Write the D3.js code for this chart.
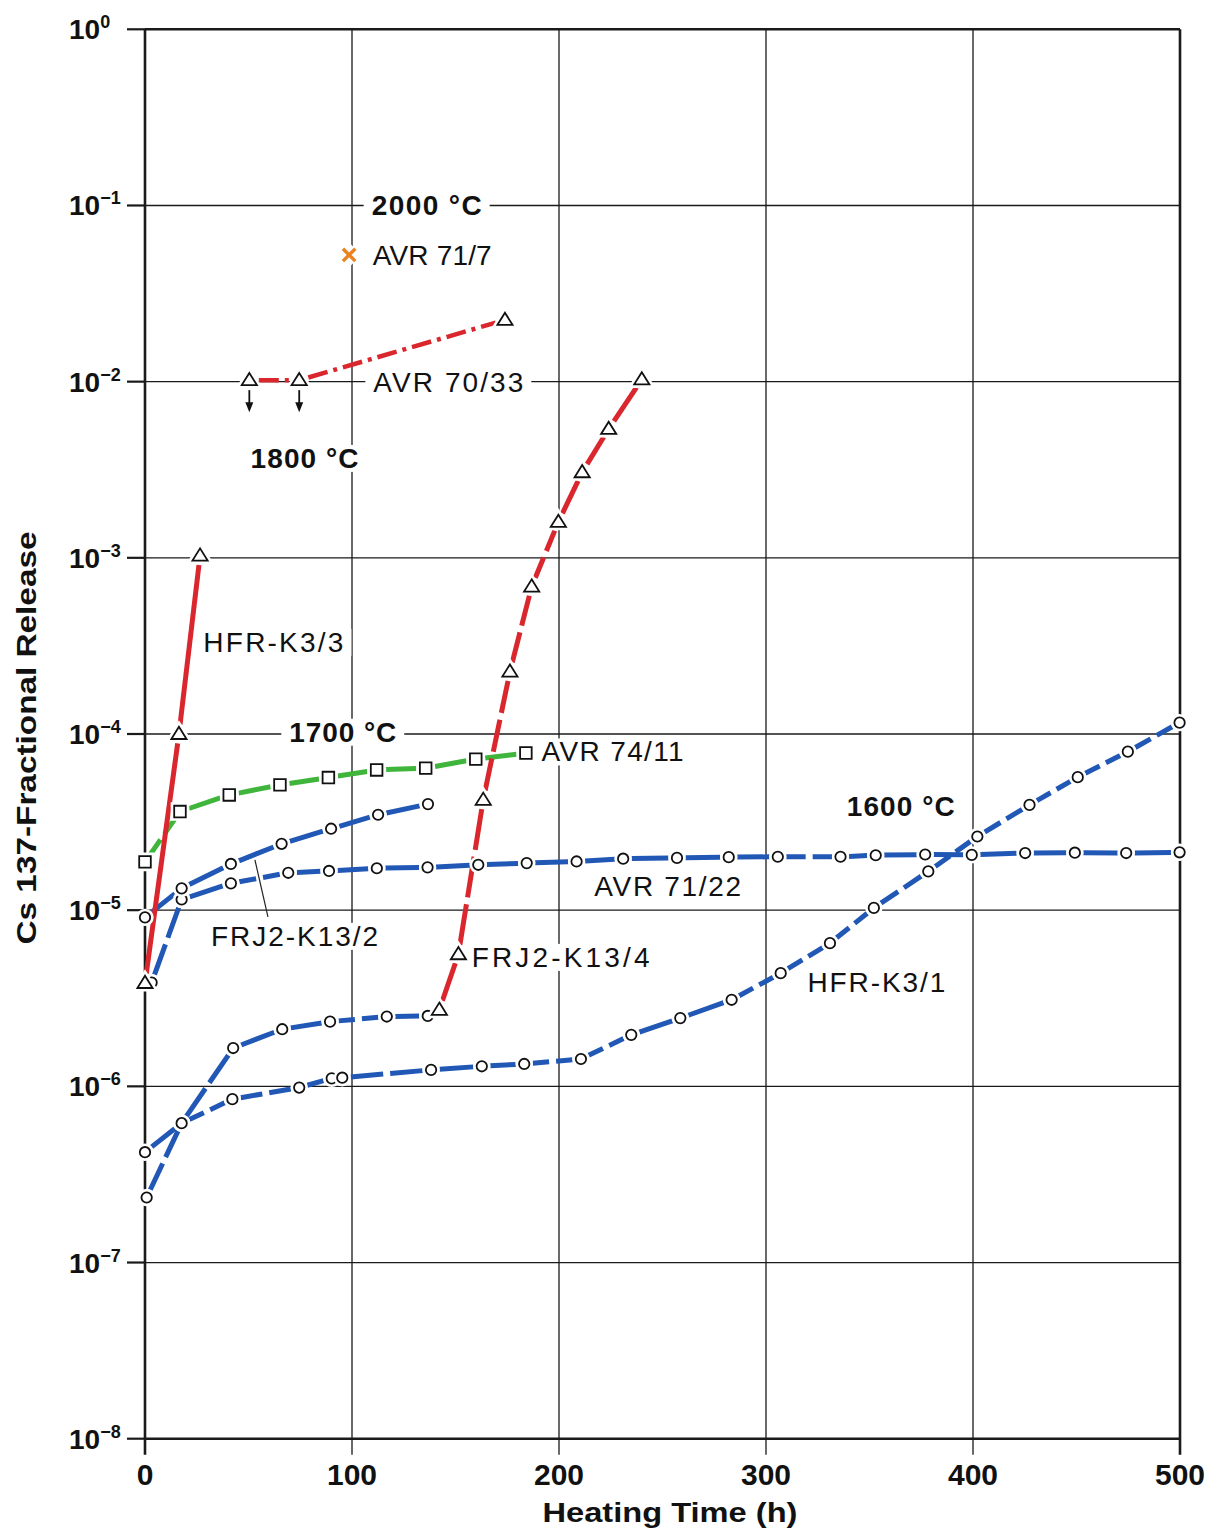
<!DOCTYPE html>
<html>
<head>
<meta charset="utf-8">
<script src="https://cdn.jsdelivr.net/npm/d3@7"></script>
<style>
  body { margin: 0; background: #fff; }
  text { font-family: "Liberation Sans", Arial, Helvetica, sans-serif; fill: #111; }
</style>
</head>
<body>
<svg id="chart" width="1224" height="1539"></svg>
<script>
// ---- Axis ticks ----
const timeTicks = [0, 100, 200, 300, 400, 500];
const decadeTicks = [1e0, 1e-1, 1e-2, 1e-3, 1e-4, 1e-5, 1e-6, 1e-7, 1e-8];
const decadeExponents = ["0", "\u22121", "\u22122", "\u22123", "\u22124", "\u22125", "\u22126", "\u22127", "\u22128"];

// ---- Release curves: [heating time (h), Cs-137 fractional release] ----
// 2000 °C
const avr717 = [[98.6, 5.24e-2]];
// 1800 °C (first two points are upper limits)
const avr7033 = [[50.4, 1.02e-2], [74.5, 1.02e-2], [173.9, 2.24e-2]];
const avr7033UpperLimitTimes = [50.4, 74.5];
const hfrK33 = [[0, 3.86e-6], [16.4, 1.0e-4], [26.6, 1.03e-3]];
const frj2K134Hot = [[142.2, 2.72e-6], [151.4, 5.62e-6], [163.4, 4.23e-5], [176.3, 2.26e-4],
  [186.8, 6.87e-4], [199.7, 1.6e-3], [211.2, 3.06e-3], [224.0, 5.39e-3], [240.0, 1.03e-2]];
// 1700 °C
const avr7411 = [[0, 1.88e-5], [16.9, 3.63e-5], [40.7, 4.51e-5], [65.2, 5.14e-5], [88.6, 5.66e-5],
  [111.9, 6.25e-5], [135.6, 6.4e-5], [159.8, 7.2e-5], [184.0, 7.8e-5]];
// 1600 °C
const frj2K132 = [[0, 9.1e-6], [17.7, 1.33e-5], [41.5, 1.83e-5], [66.0, 2.38e-5], [89.9, 2.9e-5],
  [112.6, 3.48e-5], [136.7, 4.0e-5]];
const avr7122 = [[3.2, 3.88e-6], [17.7, 1.15e-5], [41.5, 1.42e-5], [69.2, 1.63e-5], [88.9, 1.67e-5],
  [112.0, 1.73e-5], [136.5, 1.75e-5], [161.0, 1.81e-5], [184.4, 1.85e-5], [208.5, 1.89e-5],
  [231.0, 1.96e-5], [257.0, 1.98e-5], [282.0, 2.0e-5], [305.7, 2.01e-5], [336.0, 2.01e-5],
  [353.0, 2.05e-5], [376.9, 2.07e-5], [399.4, 2.06e-5], [425.2, 2.11e-5], [449.2, 2.12e-5],
  [474.0, 2.11e-5], [499.8, 2.13e-5]];
const frj2K134Cool = [[0.8, 2.34e-7], [17.7, 6.18e-7], [42.6, 1.65e-6], [66.3, 2.11e-6],
  [89.4, 2.33e-6], [116.8, 2.49e-6], [136.6, 2.51e-6]];
const hfrK31 = [[0, 4.23e-7], [17.7, 6.18e-7], [42.2, 8.46e-7], [74.5, 9.84e-7], [90.2, 1.11e-6],
  [95.3, 1.12e-6], [138.2, 1.24e-6], [162.7, 1.30e-6], [183.2, 1.34e-6], [210.6, 1.43e-6],
  [234.9, 1.96e-6], [258.6, 2.44e-6], [283.4, 3.10e-6], [307.1, 4.39e-6], [330.9, 6.5e-6],
  [352.1, 1.03e-5], [378.4, 1.66e-5], [402.1, 2.62e-5], [427.3, 3.96e-5], [450.6, 5.69e-5],
  [474.8, 7.94e-5], [499.8, 1.16e-4]];

// ---- Styling ----
const RED = "#d9272d", BLUE = "#2157b5", GREEN = "#3fb53c", ORANGE = "#ea8220";

// maxDash: longest dash before a segment is broken; pattern: fixed dash-dot pattern
const seriesList = [
  { data: avr7122, color: BLUE, maxDash: 38, marker: "circle" },
  { data: hfrK31, color: BLUE, maxDash: 38, marker: "circle" },
  { data: frj2K134Cool, color: BLUE, maxDash: 38, marker: "circle" },
  { data: frj2K132, color: BLUE, maxDash: 38, marker: "circle" },
  { data: avr7411, color: GREEN, maxDash: 36, marker: "square" },
  { data: hfrK33, color: RED, maxDash: 1000, marker: "triangle" },
  { data: frj2K134Hot, color: RED, maxDash: 48, marker: "triangle" },
  { data: avr7033, color: RED, pattern: "20,6,4,6", marker: "triangle", width: 4.5 }
];

// Text annotations, placed in data units (time, release at text mid-height)
const annotations = [
  { text: "2000 \u00B0C", t: 109.5, f: 0.1, bold: true, len: 110 },
  { text: "AVR 71/7", t: 110.0, f: 5.24e-2, len: 119 },
  { text: "AVR 70/33", t: 110.3, f: 1.0e-2, len: 150 },
  { text: "1800 \u00B0C", t: 51.0, f: 3.69e-3, bold: true, len: 108 },
  { text: "HFR-K3/3", t: 28.2, f: 3.33e-4, len: 140 },
  { text: "1700 \u00B0C", t: 69.7, f: 1.03e-4, bold: true, len: 107 },
  { text: "AVR 74/11", t: 191.6, f: 7.96e-5, len: 142 },
  { text: "1600 \u00B0C", t: 339.0, f: 3.91e-5, bold: true, len: 108 },
  { text: "AVR 71/22", t: 217.0, f: 1.38e-5, len: 147 },
  { text: "FRJ2-K13/2", t: 31.9, f: 7.15e-6, len: 167 },
  { text: "FRJ2-K13/4", t: 157.8, f: 5.43e-6, len: 178 },
  { text: "HFR-K3/1", t: 320.0, f: 3.92e-6, len: 138 }
];
const frj2K132Leader = [[59.4, 9.16e-6], [53.1, 1.93e-5]];

// ---- Scales ----
const svg = d3.select("#chart");
const x = d3.scaleLinear().domain([0, 500]).range([145, 1180]);
const y = d3.scaleLog().domain([1e-8, 1]).range([1438.7, 29.3]);

const gGrid = svg.append("g");
const gBg = svg.append("g");
const gLines = svg.append("g");
const gMarks = svg.append("g");
const gText = svg.append("g");

// ---- Grid, frame and ticks ----
decadeTicks.forEach((v, i) => {
  const edge = (i === 0 || i === decadeTicks.length - 1);
  gGrid.append("line")
    .attr("x1", x(0)).attr("x2", x(500))
    .attr("y1", y(v)).attr("y2", y(v))
    .attr("stroke", "#1a1a1a").attr("stroke-width", edge ? 2.6 : 1.3);
  gGrid.append("line")
    .attr("x1", x(0) - 18).attr("x2", x(0))
    .attr("y1", y(v)).attr("y2", y(v))
    .attr("stroke", "#1a1a1a").attr("stroke-width", 2.2);
});
timeTicks.forEach((t, i) => {
  const edge = (i === 0 || i === timeTicks.length - 1);
  gGrid.append("line")
    .attr("x1", x(t)).attr("x2", x(t))
    .attr("y1", y(1)).attr("y2", y(1e-8) + 16)
    .attr("stroke", "#1a1a1a").attr("stroke-width", edge ? 2.6 : 1.3);
});

// y tick labels: 10 with superscript exponent
decadeTicks.forEach((v, i) => {
  const t = gText.append("text")
    .attr("x", 69).attr("y", y(v) + 10)
    .attr("font-weight", "bold").attr("font-size", 28);
  t.append("tspan").text("10");
  t.append("tspan").attr("dy", -11).attr("font-size", 18).text(decadeExponents[i]);
});

// x tick labels
timeTicks.forEach(tk => {
  gText.append("text")
    .attr("x", x(tk)).attr("y", 1485)
    .attr("text-anchor", "middle")
    .attr("font-weight", "bold").attr("font-size", 30)
    .text(tk);
});

// axis titles
gText.append("text")
  .attr("x", 670).attr("y", 1522)
  .attr("text-anchor", "middle")
  .attr("font-weight", "bold").attr("font-size", 27)
  .attr("textLength", 255).attr("lengthAdjust", "spacingAndGlyphs")
  .text("Heating Time (h)");
gText.append("text")
  .attr("transform", "translate(36,738) rotate(-90)")
  .attr("text-anchor", "middle")
  .attr("font-weight", "bold").attr("font-size", 28)
  .attr("textLength", 413).attr("lengthAdjust", "spacingAndGlyphs")
  .text("Cs 137-Fractional Release");

// ---- Annotations (with white backing that breaks the grid) ----
annotations.forEach(a => {
  const node = gText.append("text")
    .attr("x", x(a.t)).attr("y", y(a.f) + 10)
    .attr("font-size", 28)
    .attr("font-weight", a.bold ? "bold" : "normal")
    .attr("textLength", a.len).attr("lengthAdjust", "spacing")
    .text(a.text);
  const b = node.node().getBBox();
  gBg.append("rect")
    .attr("x", b.x - 8).attr("y", b.y + 2)
    .attr("width", b.width + 16).attr("height", b.height - 4)
    .attr("fill", "#fff");
});

gLines.append("path")
  .attr("d", d3.line().x(d => x(d[0])).y(d => y(d[1]))(frj2K132Leader))
  .attr("stroke", "#222").attr("stroke-width", 1.2).attr("fill", "none");

// ---- Curves: each segment between markers stops short of the markers ----
const TRIM = { circle: 8.5, square: 9.5, triangle: 9.5 };
const GAP = 7;
seriesList.forEach(s => {
  const pts = s.data.map(d => [x(d[0]), y(d[1])]);
  for (let i = 0; i < pts.length - 1; i++) {
    const [x0, y0] = pts[i], [x1, y1] = pts[i + 1];
    const len = Math.hypot(x1 - x0, y1 - y0);
    const trim = TRIM[s.marker];
    const L = len - 2 * trim;
    if (L <= 2) continue;
    const ux = (x1 - x0) / len, uy = (y1 - y0) / len;
    const a = [x0 + ux * trim, y0 + uy * trim], b = [x1 - ux * trim, y1 - uy * trim];
    let dash = null;
    if (s.pattern) {
      dash = s.pattern;
    } else {
      const n = Math.max(1, Math.ceil((L + GAP) / (s.maxDash + GAP)));
      if (n > 1) dash = `${(L - (n - 1) * GAP) / n},${GAP}`;
    }
    gLines.append("path")
      .attr("d", d3.line()([a, b]))
      .attr("fill", "none")
      .attr("stroke", s.color)
      .attr("stroke-width", s.width || 5)
      .attr("stroke-dasharray", dash)
      .attr("stroke-linecap", "butt");
  }
});

// ---- Markers ----
function markerPath(kind) {
  if (kind === "circle") return d3.symbol().type(d3.symbolCircle).size(Math.PI * 5.2 * 5.2)();
  if (kind === "square") return "M-5.8,-5.8H5.8V5.8H-5.8Z";
  return "M0,-7.2L7.6,5L-7.6,5Z";
}
function drawMarkers(data, kind) {
  const p = markerPath(kind);
  const g = gMarks.selectAll(null).data(data).enter().append("g")
    .attr("transform", d => `translate(${x(d[0])},${y(d[1])})`);
  g.append("path").attr("d", p).attr("fill", "#fff").attr("stroke", "#fff").attr("stroke-width", 7);
  g.append("path").attr("d", p).attr("fill", "#fff").attr("stroke", "#111").attr("stroke-width", 1.8);
}
seriesList.forEach(s => drawMarkers(s.data, s.marker));

// upper-limit arrows under the first AVR 70/33 points
avr7033.filter(d => avr7033UpperLimitTimes.includes(d[0])).forEach(d => {
  const cx = x(d[0]), cy = y(d[1]);
  gMarks.append("line")
    .attr("x1", cx).attr("x2", cx).attr("y1", cy + 10).attr("y2", cy + 24)
    .attr("stroke", "#111").attr("stroke-width", 1.8);
  gMarks.append("path")
    .attr("d", `M${cx - 4},${cy + 22}L${cx + 4},${cy + 22}L${cx},${cy + 32}Z`)
    .attr("fill", "#111");
});

// AVR 71/7 cross
avr717.forEach(d => {
  const cx = x(d[0]), cy = y(d[1]), r = 6.2;
  const g = gMarks.append("g");
  [["#fff", 12], [ORANGE, 3.4]].forEach(([c, w]) => {
    g.append("path")
      .attr("d", `M${cx - r},${cy - r}L${cx + r},${cy + r}M${cx - r},${cy + r}L${cx + r},${cy - r}`)
      .attr("stroke", c).attr("stroke-width", w).attr("fill", "none");
  });
});
</script>
</body>
</html>
